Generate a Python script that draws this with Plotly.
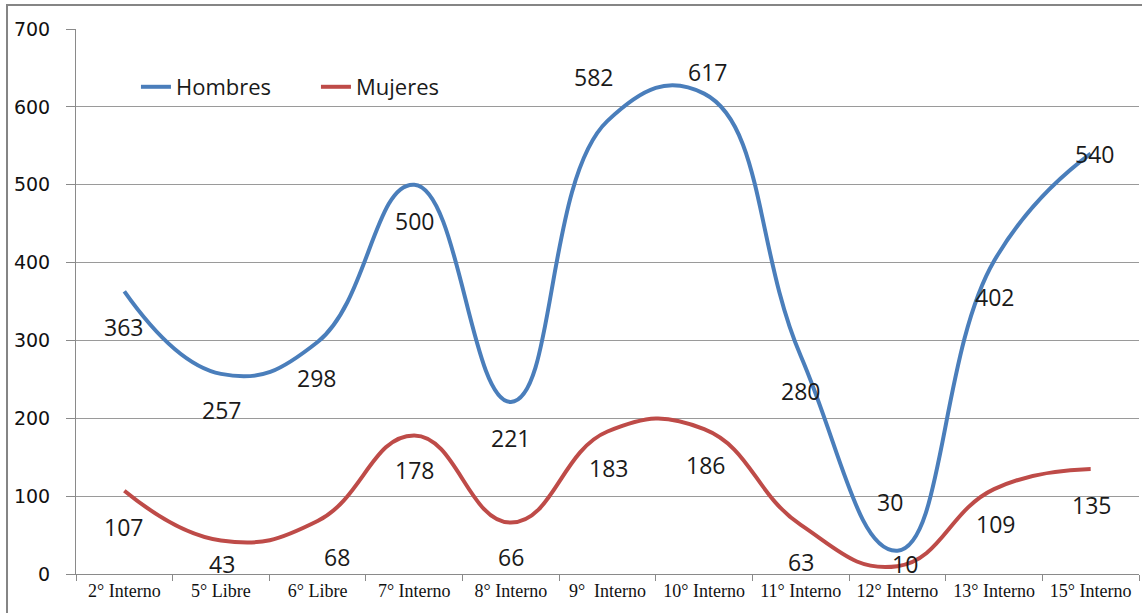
import plotly.graph_objects as go

categories = ["2° Interno", "5° Libre", "6° Libre", "7° Interno", "8° Interno",
              "9°\u00a0 Interno", "10° Interno", "11° Interno", "12° Interno",
              "13° Interno", "15° Interno"]
hombres = [363, 257, 298, 500, 221, 582, 617, 280, 30, 402, 540]
mujeres = [107, 43, 68, 178, 66, 183, 186, 63, 10, 109, 135]

# label offsets in pixels (dx, dy) relative to each point (style, not data)
h_off = [(-1, -36), (1, -36), (-1, -36), (0, -36), (0, -36), (-14, 44),
         (3, 22), (0, -35), (-7, 49), (0, -36), (4, 0)]
m_off = [(-1, -36), (1, -23), (19, -36), (0, -35), (0, -34), (1, -36),
         (1, -36), (0, -37), (8, 2), (1, -35), (1, -36)]

BLUE = "#4A7EBB"
RED = "#BE4B48"

fig = go.Figure()
fig.add_trace(go.Scatter(x=categories, y=hombres, name="Hombres", mode="lines",
                         line=dict(color=BLUE, width=4, shape="spline", smoothing=1.3)))
fig.add_trace(go.Scatter(x=categories, y=mujeres, name="Mujeres", mode="lines",
                         line=dict(color=RED, width=4, shape="spline", smoothing=1.3)))

ann = []
for series, offs in ((hombres, h_off), (mujeres, m_off)):
    for c, v, (dx, dy) in zip(categories, series, offs):
        ann.append(dict(x=c, y=v, text=str(v), showarrow=False, xshift=dx, yshift=dy,
                        font=dict(family="Open Sans", size=23, color="#1a1a1a")))

fig.update_layout(
    width=1142, height=613,
    margin=dict(l=76, r=3, t=29, b=39),
    paper_bgcolor="white", plot_bgcolor="white",
    showlegend=True,
    legend=dict(orientation="h", x=0.0564, y=0.8936, xanchor="left", yanchor="middle",
                font=dict(family="Open Sans", size=22, color="#1a1a1a"),
                bgcolor="rgba(0,0,0,0)", entrywidth=135, entrywidthmode="pixels"),
    annotations=ann,
    shapes=[dict(type="rect", xref="paper", yref="paper", x0=-0.0649, x1=1.02,
                 y0=-0.2, y1=1.044, line=dict(color="#858585", width=2))],
)
fig.update_xaxes(type="category", range=[-0.5, len(categories) - 0.5],
                 tickson="boundaries", ticks="outside", ticklen=6,
                 tickcolor="#8a8a8a", showline=True, linecolor="#8a8a8a", linewidth=1,
                 showgrid=False, tickangle=0,
                 tickfont=dict(family="Liberation Serif", size=18, color="#111"))
fig.update_yaxes(range=[0, 700], dtick=100, ticks="outside", ticklen=9,
                 tickcolor="#8a8a8a", showline=True, linecolor="#8a8a8a", linewidth=1,
                 showgrid=True, gridcolor="#9a9a9a", gridwidth=1, zeroline=False,
                 ticklabelstandoff=12,
                 tickfont=dict(family="DejaVu Sans", size=19, color="#111"))

fig.write_html("out.html", config={"displayModeBar": False},
               post_script="document.body.style.margin='0';")
